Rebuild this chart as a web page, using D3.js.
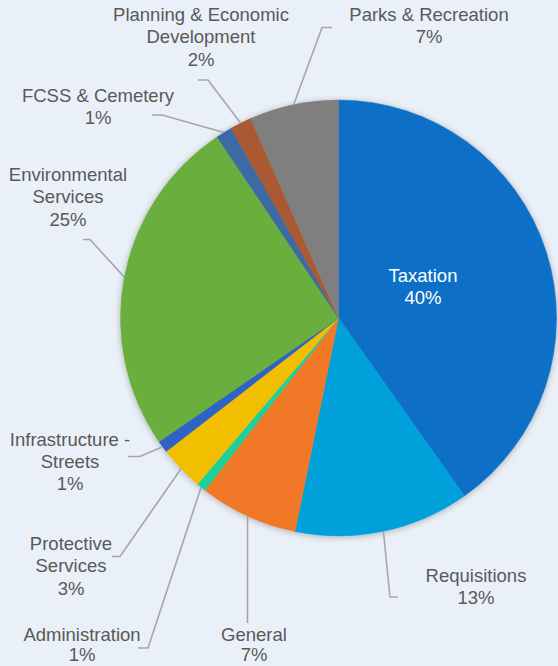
<!DOCTYPE html>
<html>
<head>
<meta charset="utf-8">
<script src="https://cdn.jsdelivr.net/npm/d3@7"></script>
<style>
  html, body { margin: 0; padding: 0; background: #EAF0F7; }
  svg { display: block; }
</style>
</head>
<body>
<svg id="chart" width="558" height="666"></svg>
<script>
// ---- data ----
const categories = ["Taxation", "Requisitions", "General", "Administration", "Protective Services",
  "Infrastructure - Streets", "Environmental Services", "FCSS & Cemetery",
  "Planning & Economic Development", "Parks & Recreation"];
const values = [40.2, 13.0, 7.3, 0.7, 3.3, 0.9, 25.2, 1.2, 1.6, 6.6];
const percentLabels = ["40%", "13%", "7%", "1%", "3%", "1%", "25%", "1%", "2%", "7%"];
const labelLines = [
  ["Taxation"], ["Requisitions"], ["General"], ["Administration"], ["Protective", "Services"],
  ["Infrastructure -", "Streets"], ["Environmental", "Services"], ["FCSS & Cemetery"],
  ["Planning & Economic", "Development"], ["Parks & Recreation"]
];
const colors = ["#1170C6", "#00A0DA", "#F07826", "#1CD19B", "#F2BE00", "#2F62C4",
  "#6AAE3E", "#3A6BA5", "#A95A30", "#7F7F7F"];

// ---- layout ----
const W = 558, H = 666;
const cx = 338.5, cy = 318, R = 218;
const fontSize = 18.5, lineH = 22.3;
// label anchor: x center, baseline of first line; leader: elbow and end point
const layout = [
  { x: 423, y: 281.5, inside: true },
  { x: 476, y: 581.5, elbow: [390, 597], end: [398, 597] },
  { x: 254, y: 640.5, lh: 20.5, elbow: [247.5, 623], end: [247.5, 623] },
  { x: 82,  y: 640.5, lh: 20.5, elbow: [148, 648], end: [138, 648] },
  { x: 71,  y: 550,   elbow: [120, 556.5], end: [112, 556.5] },
  { x: 70,  y: 445.5, elbow: [140, 456.5], end: [128, 456.5] },
  { x: 68,  y: 181,   elbow: [90, 239.5], end: [83, 239.5] },
  { x: 98,  y: 101.5, elbow: [162, 115], end: [152, 115] },
  { x: 201, y: 21,    elbow: [208, 80], end: [198, 80] },
  { x: 429, y: 21,    elbow: [322, 27.5], end: [332, 27.5] }
];

const svg = d3.select("#chart");
svg.append("rect").attr("width", W).attr("height", H).attr("fill", "#EAF0F7");

const defs = svg.append("defs");
const f = defs.append("filter").attr("id", "shadow").attr("x", "-20%").attr("y", "-20%")
  .attr("width", "140%").attr("height", "140%");
f.append("feDropShadow").attr("dx", 0).attr("dy", 1).attr("stdDeviation", 3)
  .attr("flood-color", "#000").attr("flood-opacity", 0.28);

const data = categories.map((c, i) => ({ name: c, value: values[i], i }));
const pie = d3.pie().value(d => d.value).sort(null);
const arcs = pie(data);
const arc = d3.arc().innerRadius(0).outerRadius(R);

const g = svg.append("g").attr("transform", `translate(${cx},${cy})`);
const pieG = g.append("g").attr("filter", "url(#shadow)");
pieG.selectAll("path").data(arcs).join("path")
  .attr("d", arc)
  .attr("fill", d => colors[d.data.i])
  .attr("stroke", d => colors[d.data.i])
  .attr("stroke-width", 0.5);

// leader lines
const leaderG = svg.append("g");
arcs.forEach(a => {
  const L = layout[a.data.i];
  if (L.inside) return;
  const ang = (a.startAngle + a.endAngle) / 2;
  const px = cx + R * Math.sin(ang), py = cy - R * Math.cos(ang);
  const pts = [[px, py], L.elbow, L.end];
  leaderG.append("path")
    .attr("d", d3.line()(pts))
    .attr("fill", "none")
    .attr("stroke", "#A6A6A6")
    .attr("stroke-width", 1.6);
});

// labels
const labelG = svg.append("g")
  .attr("font-family", "'Liberation Sans', Arial, sans-serif")
  .attr("font-size", fontSize)
  .attr("text-anchor", "middle");
arcs.forEach(a => {
  const i = a.data.i;
  const L = layout[i];
  const t = labelG.append("text")
    .attr("fill", L.inside ? "#FFFFFF" : "#595959");
  const lines = labelLines[i].concat([percentLabels[i]]);
  const lh = L.lh || lineH;
  lines.forEach((s, k) => {
    t.append("tspan").attr("x", L.x).attr("y", L.y + k * lh).text(s);
  });
});
</script>
</body>
</html>
